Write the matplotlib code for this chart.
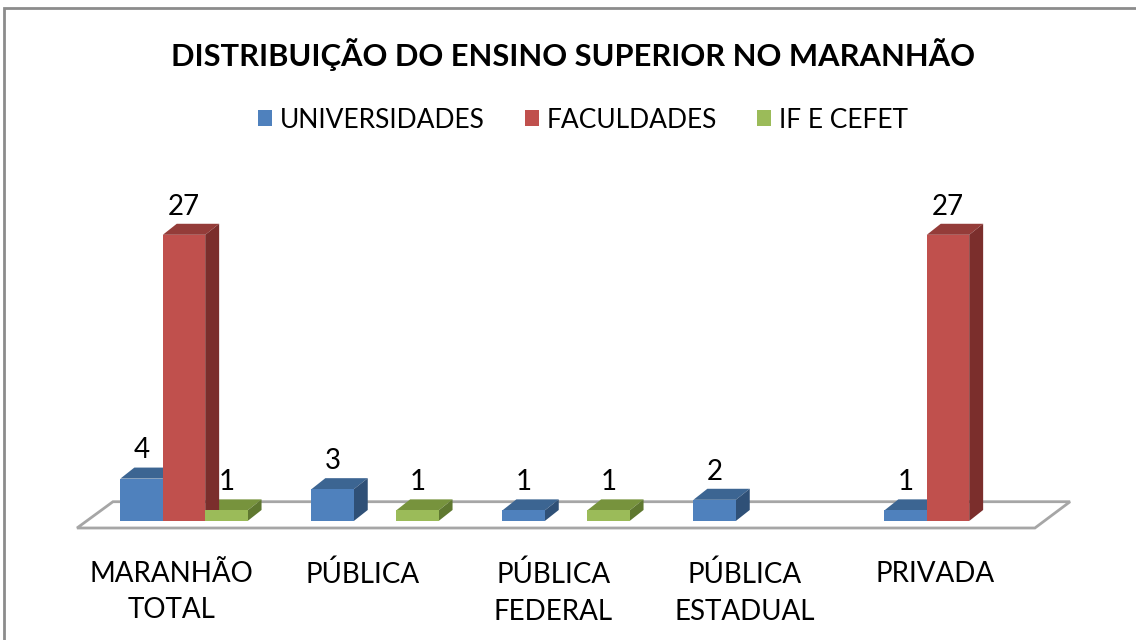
import matplotlib
matplotlib.use("Agg")
import matplotlib.pyplot as plt
from matplotlib.patches import Polygon, Patch, Rectangle
import numpy as np

plt.rcParams['font.family'] = ['Lato', 'DejaVu Sans']

# Data
categories = ["MARANHÃO\nTOTAL", "PÚBLICA", "PÚBLICA\nFEDERAL", "PÚBLICA\nESTADUAL", "PRIVADA"]
universidades = [4, 3, 1, 2, 1]
faculdades = [27, None, None, None, 27]
if_cefet = [1, 1, 1, None, None]
series_names = ["UNIVERSIDADES", "FACULDADES", "IF E CEFET"]

# colours: front, top, side
colors = [("#4F81BD", "#3C6592", "#2F5077"),
          ("#C0504D", "#943C39", "#7B2E2C"),
          ("#9BBB59", "#77933D", "#5F7830")]

W, H = 1136, 640
fig = plt.figure(figsize=(W / 100, H / 100), dpi=100)

# axes placed so that the 3D-looking bars sit where Excel drew them
x_lo, x_hi = -0.6, 4.7
y_lo, y_hi = -1.5, 30
ax = fig.add_axes([69.4 / W, (H - 536.9) / H, (1081.7 - 69.4) / W, (536.9 - 203) / H])
ax.set_xlim(x_lo, x_hi)
ax.set_ylim(y_lo, y_hi)
ax.axis("off")

width = 0.222
dx, dy = 0.073, 1.04  # bar depth

# floor
floor = Polygon([(-0.56, -0.66), (4.455, -0.66), (4.639, 1.82), (-0.372, 1.82)],
                closed=True, facecolor="white", edgecolor="#A6A6A6", lw=2, zorder=1)
ax.add_patch(floor)

x = np.arange(len(categories))
all_series = [universidades, faculdades, if_cefet]
for k, vals in enumerate(all_series):
    front, top, side = colors[k]
    v = np.array([np.nan if a is None else a for a in vals], dtype=float)
    mask = ~np.isnan(v)
    xs = x[mask] + (k - 1) * width
    bars = ax.bar(xs, v[mask], width=width, color=front, zorder=4, linewidth=0)
    for b, val in zip(bars, v[mask]):
        x0 = b.get_x()
        x1 = x0 + b.get_width()
        h = b.get_height()
        ax.add_patch(Polygon([(x0, h), (x1, h), (x1 + dx, h + dy), (x0 + dx, h + dy)],
                             closed=True, facecolor=top, edgecolor="none", zorder=2))
        ax.add_patch(Polygon([(x1, 0), (x1 + dx, dy), (x1 + dx, h + dy), (x1, h)],
                             closed=True, facecolor=side, edgecolor="none", zorder=3))
        ax.annotate(f"{int(val)}", (x0 + b.get_width() / 2, h), xytext=(0, 11),
                    textcoords="offset points", ha="center", va="bottom",
                    fontsize=20, color="black", zorder=5)

# category labels (shifted a little left, as in the perspective view)
for i, c in enumerate(categories):
    ax.annotate(c, (i, y_lo), xytext=(-9, -17), textcoords="offset points",
                ha="center", va="top", fontsize=20, linespacing=1.5)

fig.text(573 / W, 1 - 55 / H, "DISTRIBUIÇÃO DO ENSINO SUPERIOR NO MARANHÃO",
         ha="center", va="center", fontsize=22.2, fontweight="bold")

handles = [Patch(facecolor=colors[k][0], edgecolor="none") for k in range(3)]
fig.legend(handles, series_names, loc="center", bbox_to_anchor=(583 / W, 1 - 120 / H),
           ncol=3, frameon=False, fontsize=19, handlelength=0.55, handleheight=0.55,
           handletextpad=0.3, columnspacing=1.5)

# chart border (only top and left visible)
fig.patches.append(Rectangle((4 / W, -0.1), 1.2, 1.1 - 8 / H, transform=fig.transFigure,
                             fill=False, edgecolor="#8C8C8C", lw=2))

fig.savefig("out.png", dpi=100)
